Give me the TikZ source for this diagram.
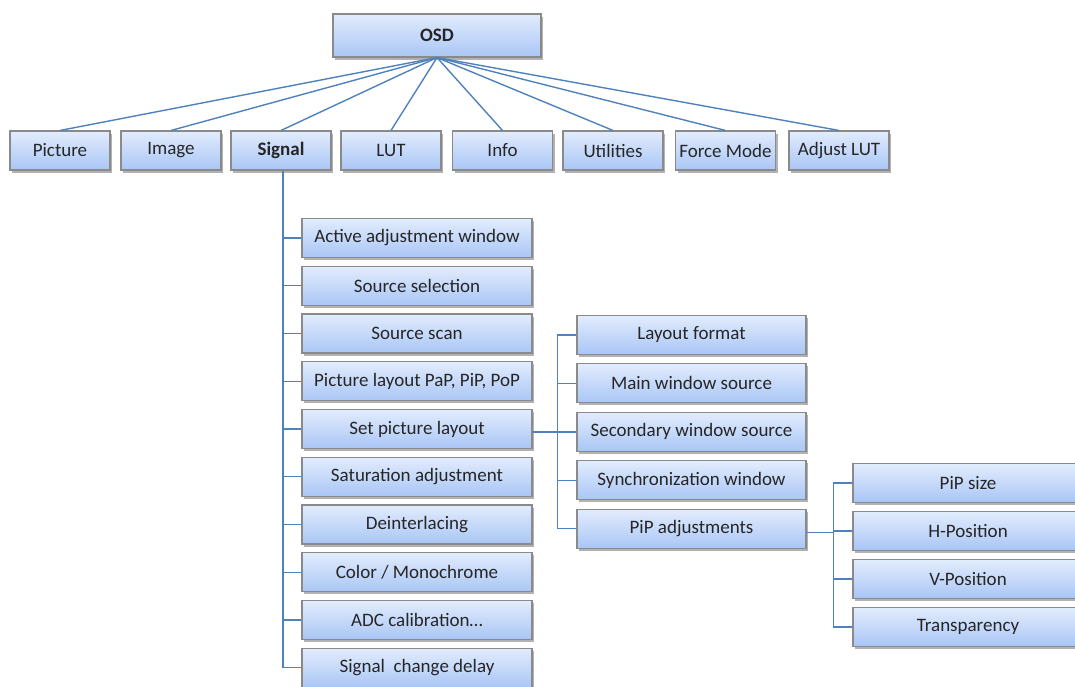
\documentclass[tikz,border=0pt]{standalone}
\usepackage{fontspec}
\setmainfont{Carlito}
\usetikzlibrary{shadows}
\definecolor{boxtop}{HTML}{E2ECFD}
\definecolor{boxbot}{HTML}{A9C6F6}
\definecolor{boxborder}{HTML}{8A8A8A}
\definecolor{linkblue}{HTML}{4F81BD}
\tikzset{
  menubox/.style={draw=boxborder, line width=1.1pt, top color=boxtop, bottom color=boxbot,
    minimum height=39pt, inner sep=0pt, font=\fontsize{19}{22}\selectfont, text=black!85,
    drop shadow={shadow xshift=2pt, shadow yshift=-2.5pt, fill=black, opacity=0.3}},
  topbox/.style={menubox, minimum width=100pt},
  subbox/.style={menubox, minimum width=230pt},
  link/.style={draw=linkblue, line width=1.4pt}
}
\begin{document}
\begin{tikzpicture}[x=1pt,y=-1pt]
\useasboundingbox (0,0) rectangle (1075,686);
\clip (0,0) rectangle (1075,686);
% root
\node[menubox, minimum width=208pt, minimum height=43pt, font=\fontsize{19}{22}\selectfont\bfseries] (osd) at (437,35.5) {OSD};
% top row
\node[topbox] (pic) at (60,150.5) {Picture};
\node[topbox] (img) at (171,150.5) {Image};
\node[topbox, font=\fontsize{19}{22}\selectfont\bfseries] (sig) at (281,150.5) {Signal};
\node[topbox] (lut) at (391,150.5) {LUT};
\node[topbox] (info) at (502.5,150.5) {Info};
\node[topbox] (util) at (613,150.5) {Utilities};
\node[topbox] (force) at (725.5,150.5) {Force Mode};
\node[topbox] (adj) at (839,150.5) {Adjust LUT};
\foreach \n in {pic,img,sig,lut,info,util,force,adj}
  \draw[link] (osd.south) -- (\n.north);
% signal children
\node[subbox] (s0) at (417,238) {Active adjustment window};
\node[subbox] (s1) at (417,285.75) {Source selection};
\node[subbox] (s2) at (417,333.5) {Source scan};
\node[subbox] (s3) at (417,381.25) {Picture layout PaP, PiP, PoP};
\node[subbox] (s4) at (417,429) {Set picture layout};
\node[subbox] (s5) at (417,476.75) {Saturation adjustment};
\node[subbox] (s6) at (417,524.5) {Deinterlacing};
\node[subbox] (s7) at (417,572.25) {Color / Monochrome};
\node[subbox] (s8) at (417,620) {ADC calibration\ldots};
\node[subbox] (s9) at (417,667.75) {Signal\ \ change delay};
\foreach \n in {s0,s1,s2,s3,s4,s5,s6,s7,s8,s9}
  \draw[link] (sig.south) ++(2,0) |- (\n.west);
% picture layout children
\node[subbox, minimum width=229pt] (l0) at (691.5,335) {Layout format};
\node[subbox, minimum width=229pt] (l1) at (691.5,383.4) {Main window source};
\node[subbox, minimum width=229pt] (l2) at (691.5,431.8) {Secondary window source};
\node[subbox, minimum width=229pt] (l3) at (691.5,480.2) {Synchronization window};
\node[subbox, minimum width=229pt] (l4) at (691.5,528.6) {PiP adjustments};
\foreach \n in {l0,l1,l2,l3,l4}
  \draw[link] (s4.east) ++(0,3) -- ++(25,0) |- (\n.west);
% PiP adjustments children
\node[subbox] (p0) at (968,483) {PiP size};
\node[subbox] (p1) at (968,531) {H-Position};
\node[subbox] (p2) at (968,579) {V-Position};
\node[subbox] (p3) at (968,627) {Transparency};
\foreach \n in {p0,p1,p2,p3}
  \draw[link] (l4.east) ++(0,4) -- ++(27,0) |- (\n.west);
\end{tikzpicture}
\end{document}
